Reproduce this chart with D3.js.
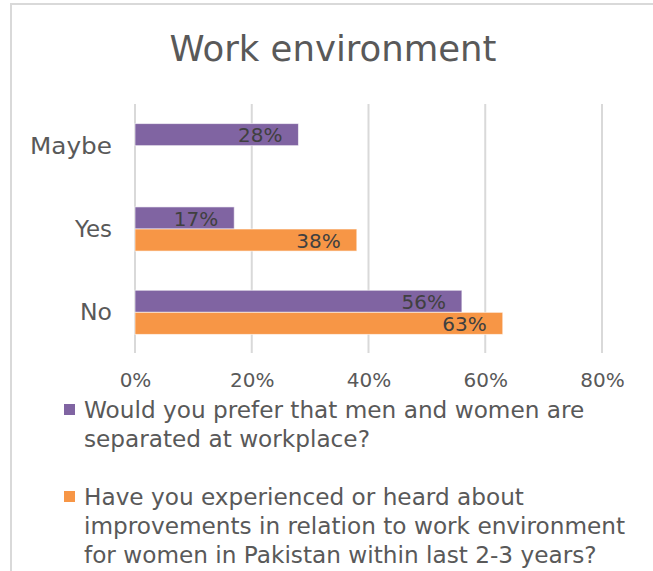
<!DOCTYPE html>
<html>
<head>
<meta charset="utf-8">
<script src="https://cdn.jsdelivr.net/npm/d3@7"></script>
<style>
  html, body { margin: 0; padding: 0; background: #fff; }
  svg { display: block; }
  text { font-family: "DejaVu Sans", sans-serif; fill: #595959; }
</style>
</head>
<body>
<svg id="chart" width="653" height="571"></svg>
<script>
// Survey answers, one row per category
const categories = ["Maybe", "Yes", "No"];
const seriesNames = [
  "Would you prefer that men and women are separated at workplace?",
  "Have you experienced or heard about improvements in relation to work environment for women in Pakistan within last 2-3 years?"
];
// Legend text broken into display lines
const seriesLines = [
  ["Would you prefer that men and women are", "separated at workplace?"],
  ["Have you experienced or heard about", "improvements in relation to work environment", "for women in Pakistan within last 2-3 years?"]
];
const separatedValues = [0.28, 0.17, 0.56];
const improvementValues = [null, 0.38, 0.63];
const tickValues = [0, 0.2, 0.4, 0.6, 0.8];
const colors = ["#8064A2", "#F79646"];

const svg = d3.select("#chart");

// chart frame
svg.append("rect")
  .attr("x", 11).attr("y", 4)
  .attr("width", 700).attr("height", 600)
  .attr("fill", "none").attr("stroke", "#d9d9d9").attr("stroke-width", 2);

svg.append("text")
  .attr("x", 333).attr("y", 61)
  .attr("text-anchor", "middle")
  .attr("font-size", 35)
  .attr("textLength", 327).attr("lengthAdjust", "spacingAndGlyphs")
  .text("Work environment");

const x = d3.scaleLinear().domain([0, 0.8]).range([135, 602]);
const y = d3.scaleBand().domain(categories).range([104, 354]).paddingInner(0.47).paddingOuter(0.235);
const sub = d3.scaleBand().domain([0, 1]).range([0, y.bandwidth()]);

// gridlines
svg.append("g").selectAll("line").data(tickValues).join("line")
  .attr("x1", d => x(d)).attr("x2", d => x(d))
  .attr("y1", 104).attr("y2", 353)
  .attr("stroke", "#d9d9d9").attr("stroke-width", 2);

// x axis labels
const xAxis = d3.axisBottom(x).tickValues(tickValues).tickFormat(d3.format(".0%")).tickSize(0).tickPadding(0);
const gx = svg.append("g").attr("transform", "translate(0,373)").call(xAxis);
gx.select(".domain").remove();
gx.selectAll("text").attr("font-size", 20).attr("fill", "#595959").attr("font-family", "DejaVu Sans");

// category labels
const yAxis = d3.axisLeft(y).tickSize(0).tickPadding(0);
const gy = svg.append("g").attr("transform", "translate(112,0)").call(yAxis);
gy.select(".domain").remove();
gy.selectAll("text").attr("font-size", 23).attr("fill", "#595959").attr("font-family", "DejaVu Sans")
  .attr("dy", "0.35em")
  .attr("textLength", d => ({ Maybe: 82, Yes: 37, No: 32 })[d])
  .attr("lengthAdjust", "spacingAndGlyphs");

const series = [separatedValues, improvementValues];
series.forEach((vals, si) => {
  const rows = categories.map((c, i) => ({ c, v: vals[i] })).filter(d => d.v != null);
  const g = svg.append("g");
  g.selectAll("rect").data(rows).join("rect")
    .attr("x", x(0))
    .attr("y", d => y(d.c) + sub(si))
    .attr("width", d => x(d.v) - x(0))
    .attr("height", sub.bandwidth())
    .attr("fill", colors[si])
    .attr("stroke", "#ffffff").attr("stroke-opacity", 0.6).attr("stroke-width", 1);
  g.selectAll("text").data(rows).join("text")
    .attr("x", d => x(d.v) - 16)
    .attr("y", d => y(d.c) + sub(si) + sub.bandwidth() / 2)
    .attr("dy", "0.38em")
    .attr("text-anchor", "end")
    .attr("font-size", 20)
    .style("fill", "#404040")
    .text(d => d3.format(".0%")(d.v));
});

// legend
const legendTop = [418, 505];
seriesLines.forEach((lines, si) => {
  const g = svg.append("g").attr("class", "legend-item");
  g.append("title").text(seriesNames[si]);
  g.append("rect")
    .attr("x", 64).attr("y", legendTop[si] - 14)
    .attr("width", 11).attr("height", 11)
    .attr("fill", colors[si]);
  g.selectAll("text.line").data(lines).join("text")
    .attr("class", "line")
    .attr("x", 84)
    .attr("y", (d, i) => legendTop[si] + i * 29)
    .attr("font-size", 23.2)
    .text(d => d);
});
</script>
</body>
</html>
